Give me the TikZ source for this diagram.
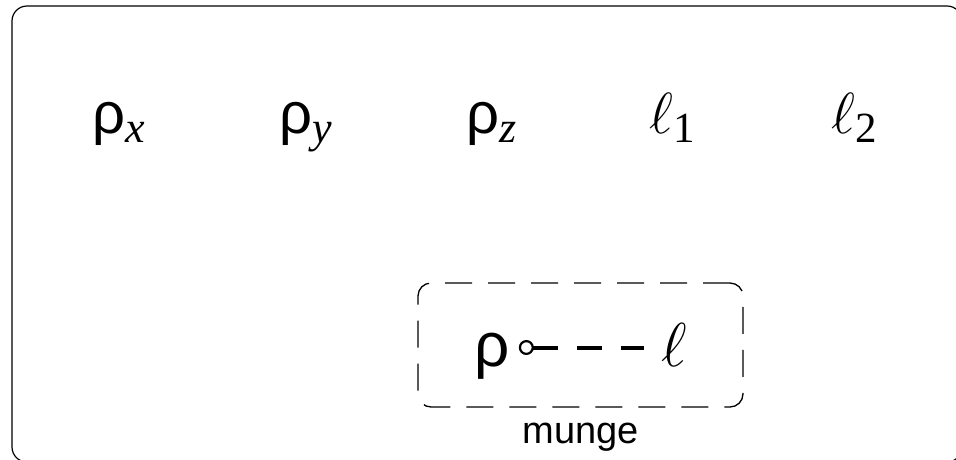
\RequirePackage{fix-cm}
\documentclass[tikz,border=0pt]{standalone}
\usepackage{fontspec}
\setmainfont{Liberation Serif}
\newfontfamily\sansfam{Liberation Sans}
\usetikzlibrary{arrows.meta}

\newcommand{\rhosub}[1]{{\sansfam ρ}\raisebox{-9pt}{\fontsize{44}{44}\selectfont\itshape #1}}
\newcommand{\ellsub}[1]{$\ell$\raisebox{-9pt}{\fontsize{43}{43}\selectfont #1}}

\begin{document}
\begin{tikzpicture}[
  x=1pt,
  y=-1pt,
  var/.style={
    inner sep=0pt,
    anchor=base,
    font=\fontsize{58}{60}\selectfont
  },
  member/.style={
    inner sep=0pt,
    anchor=base,
    text height=37pt,
    text depth=0pt,
    font=\fontsize{62}{64}\selectfont
  },
  group/.style={
    draw,
    line width=1.3pt,
    dash pattern=on 27pt off 16pt,
    rounded corners=13pt,
    minimum width=325pt,
    minimum height=124pt
  },
  link/.style={
    {Circle[open,length=15pt,width=15pt,line width=2.2pt]}-,
    line width=4pt,
    dash pattern=on 25pt off 19pt,
    shorten <=9pt,
    shorten >=17pt
  }
]
  \useasboundingbox (0,0) rectangle (956,459);
  \draw[line width=1.2pt,rounded corners=15pt] (12,6) rectangle (962,462);

  \node[var] (rhox) at (119,133) {\rhosub{x}};
  \node[var] (rhoy) at (306,133) {\rhosub{y}};
  \node[var] (rhoz) at (492,133) {\rhosub{z}};
  \node[var] (ell1) at (672,133) {\ellsub{1}};
  \node[var] (ell2) at (854,133) {\ellsub{2}};

  \node[group] (cluster) at (580.5,345) {};
  \node[anchor=base,inner sep=0pt,font=\sansfam\fontsize{38}{40}\selectfont]
    (clusterlabel) at (581,443) {munge};

  \node[member] (rho) at (492,366) {\sansfam ρ};
  \node[member] (ell) at (674,366) {$\ell$};
  \draw[link] (rho) -- (ell);
\end{tikzpicture}
\end{document}
